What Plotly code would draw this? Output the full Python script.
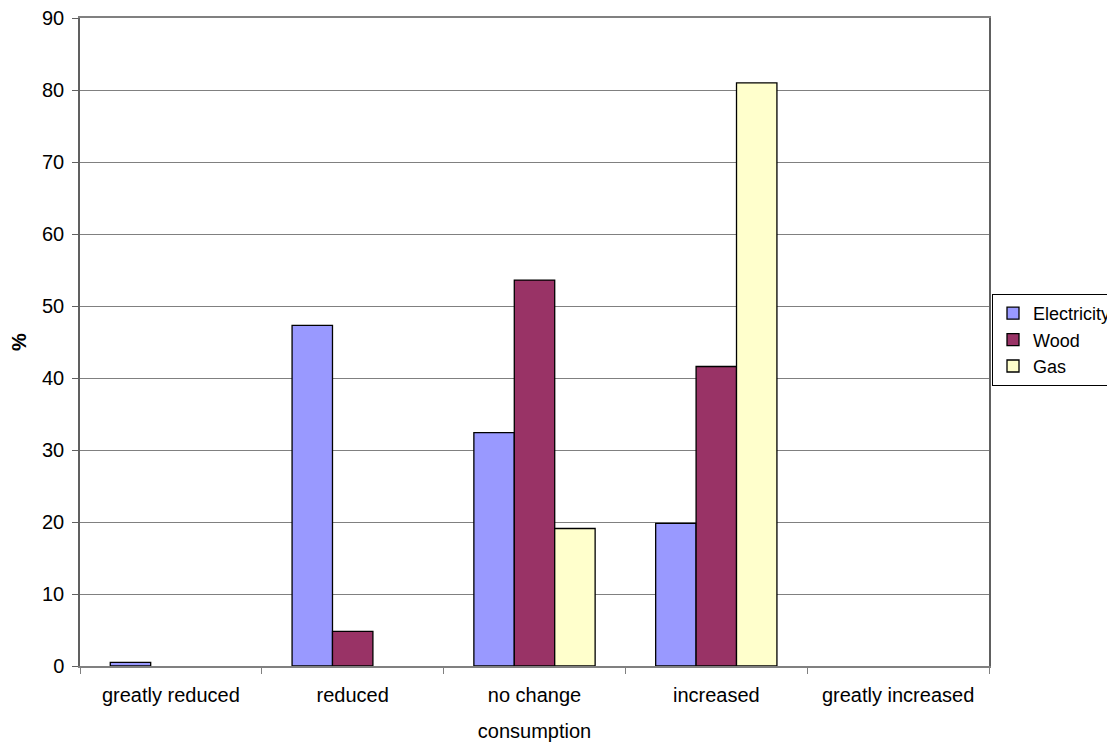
import plotly.graph_objects as go

categories = ["greatly reduced", "reduced", "no change", "increased", "greatly increased"]
electricity = [0.5, 47.3, 32.4, 19.8, None]
wood = [None, 4.8, 53.6, 41.6, None]
gas = [None, None, 19.1, 81.0, None]

series = [("Electricity", electricity, "#9999FF"),
          ("Wood", wood, "#993366"),
          ("Gas", gas, "#FFFFCC")]

fig = go.Figure()
for name, vals, col in series:
    fig.add_trace(go.Bar(x=categories, y=vals, name=name,
                         marker=dict(color=col, line=dict(color="black", width=1.3))))

# page body has an 8px margin; compensate so the plot area lands at x 80-989, y 18-666
W, H = 1107, 734
l, r, t, b = 72, 126, 10, 76
fig.update_layout(
    width=W, height=H,
    margin=dict(l=l, r=r, t=t, b=b, autoexpand=False),
    paper_bgcolor="white", plot_bgcolor="white",
    barmode="group", bargap=0.333, bargroupgap=0,
    font=dict(family="Liberation Sans, Arial, sans-serif", size=20, color="black"),
    legend=dict(x=(984 - l) / (W - l - r), y=(H - b - 286) / (H - t - b),
                xanchor="left", yanchor="top",
                bordercolor="black", borderwidth=1, bgcolor="white",
                font=dict(size=18), tracegroupgap=2, itemwidth=30),
    xaxis=dict(title=dict(text="consumption", standoff=19, font=dict(size=20)),
               automargin=False, ticklabelstandoff=10,
               showline=True, linecolor="#808080", linewidth=1.5, mirror=True,
               ticks="outside", tickson="boundaries", ticklen=6, tickcolor="#808080",
               showgrid=False),
    yaxis=dict(title=dict(text="<b>%</b>", standoff=18, font=dict(size=20)),
               automargin=False, ticklabelstandoff=4, ticklabeloverflow="allow",
               range=[0, 90], dtick=10, showline=True, linecolor="#606060", linewidth=1.5,
               mirror=True, ticks="outside", ticklen=6, tickcolor="#606060",
               showgrid=True, gridcolor="#808080", gridwidth=1, zeroline=False),
)
fig.write_html("out.html")
